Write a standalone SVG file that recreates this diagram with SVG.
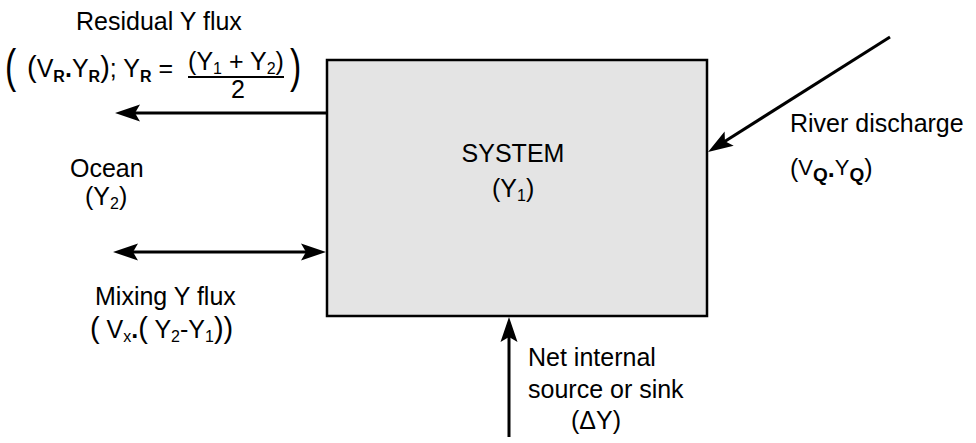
<svg xmlns="http://www.w3.org/2000/svg" width="976" height="443" viewBox="0 0 976 443">
<style>
text{font-family:"Liberation Sans",Arial,Helvetica,sans-serif;font-size:25px;fill:#000}
.sb{font-size:16px;font-weight:bold}
.sn{font-size:16px}
.pb{font-size:29px}
.ln{stroke:#000;stroke-width:3;fill:none}
</style>
<defs>
<marker id="ah" markerUnits="userSpaceOnUse" markerWidth="30" markerHeight="20" refX="10" refY="0" orient="auto-start-reverse" overflow="visible" viewBox="-1 -10 28 20">
<path d="M25,0 L0,-8.5 L5,0 L0,8.5 Z" fill="#000"/>
</marker>
</defs>
<rect width="976" height="443" fill="#fff"/>
<g id="system">
<rect x="327" y="60" width="380" height="256" fill="#e4e4e4" stroke="#000" stroke-width="2.5"/>
<text x="513" y="162" text-anchor="middle">SYSTEM</text>
<text x="492" y="197">(Y<tspan class="sn" dy="4">1</tspan><tspan dy="-4">)</tspan></text>
</g>
<g id="residual">
<text x="76" y="30">Residual Y flux</text>
<text transform="translate(5,82) scale(1.35,1.85)">(</text>
<text x="27" y="77"><tspan class="pb">(</tspan>V<tspan class="sb" dy="5">R</tspan><tspan dy="-5" font-weight="bold">.</tspan>Y<tspan class="sb" dy="5">R</tspan><tspan dy="-5" class="pb">)</tspan>; Y<tspan class="sb" dy="5">R</tspan><tspan dy="-5"> =</tspan></text>
<text x="236" y="70" text-anchor="middle">(Y<tspan class="sn" dy="4">1</tspan><tspan dy="-4"> + Y</tspan><tspan class="sn" dy="4">2</tspan><tspan dy="-4">)</tspan></text>
<line x1="188" y1="77" x2="284" y2="77" stroke="#000" stroke-width="2"/>
<text x="238" y="98" text-anchor="middle">2</text>
<text transform="translate(290,82) scale(1.35,1.85)">)</text>
</g>
<g id="ocean">
<text x="70" y="177">Ocean</text>
<text x="85" y="205">(Y<tspan class="sn" dy="4">2</tspan><tspan dy="-4">)</tspan></text>
</g>
<g id="mixing">
<text x="95" y="305">Mixing Y flux</text>
<text x="90" y="338"><tspan class="pb">(</tspan> V<tspan class="sn" dy="4">x</tspan><tspan dy="-4" font-weight="bold">.</tspan><tspan class="pb">(</tspan> Y<tspan class="sn" dy="4">2</tspan><tspan dy="-4">-Y</tspan><tspan class="sn" dy="4">1</tspan><tspan dy="-4" class="pb">))</tspan></text>
</g>
<g id="river">
<text x="790" y="132">River discharge</text>
<text x="790" y="177">(<tspan font-size="22" dy="-2">V</tspan><tspan font-size="19" font-weight="bold" dy="6">Q</tspan><tspan dy="-4" font-weight="bold">.</tspan><tspan font-size="22" dy="-2">Y</tspan><tspan font-size="19" font-weight="bold" dy="6">Q</tspan><tspan dy="-4">)</tspan></text>
</g>
<g id="source">
<text x="528" y="366">Net internal</text>
<text x="528" y="398">source or sink</text>
<text x="571" y="429">(ΔY)</text>
</g>
<g id="connectors">
<line class="ln" x1="327" y1="113" x2="130" y2="113" marker-end="url(#ah)"/>
<line class="ln" x1="128" y1="252" x2="311" y2="252" marker-start="url(#ah)" marker-end="url(#ah)"/>
<line class="ln" x1="890" y1="37" x2="720.7" y2="144" marker-end="url(#ah)"/>
<line class="ln" x1="509" y1="437" x2="509" y2="332" marker-end="url(#ah)"/>
</g>
</svg>
